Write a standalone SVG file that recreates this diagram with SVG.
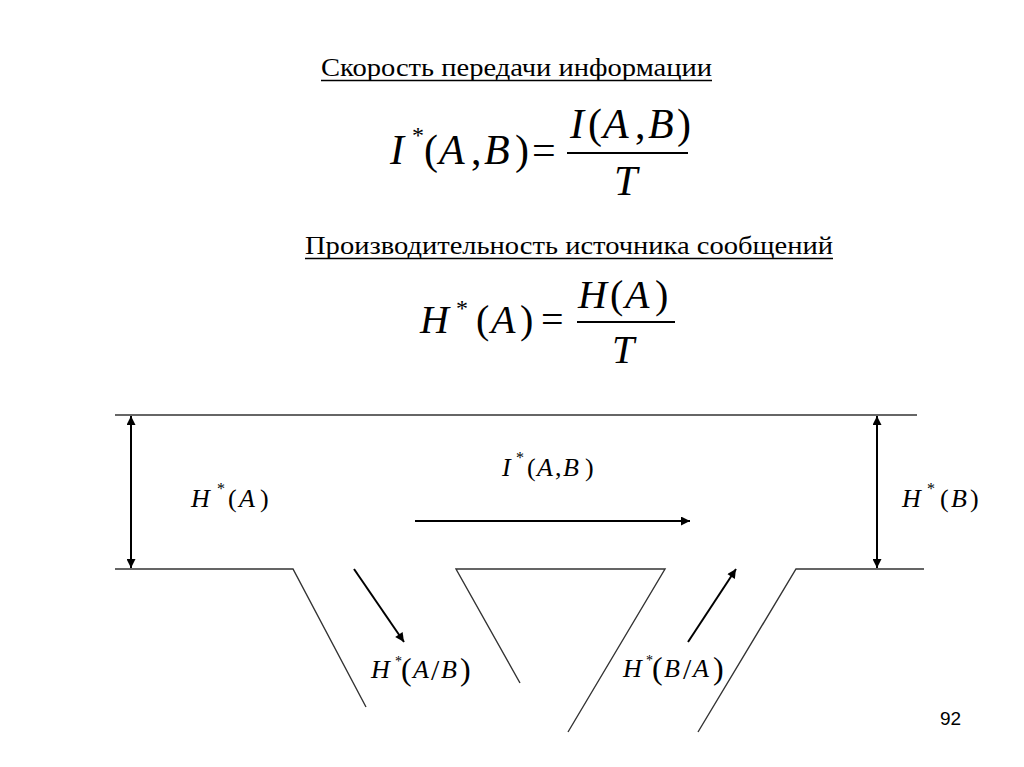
<svg xmlns="http://www.w3.org/2000/svg" width="1024" height="767" viewBox="0 0 1024 767">
<style>
.t{font-family:"Liberation Serif","Times New Roman",serif;fill:#000}
.i{font-style:italic}
.ol{stroke:#333;stroke-width:1.4;fill:none}
.ar{stroke:#000;stroke-width:2;fill:none}
.ul{stroke:#000;stroke-width:1.5}
</style>
<defs>
<marker id="ah" viewBox="0 0 10 10" refX="10" refY="5" markerWidth="11" markerHeight="9" markerUnits="userSpaceOnUse" orient="auto-start-reverse">
<path d="M0,0 L10,5 L0,10 Z" fill="#000"/>
</marker>
</defs>
<rect width="1024" height="767" fill="#fff"/>

<g id="heading1">
<text class="t" x="321" y="76" font-size="26" textLength="391" lengthAdjust="spacingAndGlyphs">Скорость передачи информации</text>
<line class="ul" x1="321" y1="80.5" x2="712" y2="80.5"/>
</g>

<g id="formula1" class="t" font-size="42">
<text y="164"><tspan class="i" x="390">I</tspan><tspan x="412" y="143" font-size="24">*</tspan><tspan x="424" y="164">(</tspan><tspan class="i" x="439">A</tspan><tspan x="471">,</tspan><tspan class="i" x="484">B</tspan><tspan x="515">)</tspan><tspan x="532">=</tspan></text>
<text y="138"><tspan class="i" x="570">I</tspan><tspan x="588">(</tspan><tspan class="i" x="603">A</tspan><tspan x="635">,</tspan><tspan class="i" x="648">B</tspan><tspan x="677">)</tspan></text>
<line x1="567" y1="153" x2="688" y2="153" stroke="#000" stroke-width="2"/>
<text y="195"><tspan class="i" x="614">T</tspan></text>
</g>

<g id="heading2">
<text class="t" x="305" y="254" font-size="26" textLength="528" lengthAdjust="spacingAndGlyphs">Производительность источника сообщений</text>
<line class="ul" x1="305" y1="258.5" x2="833" y2="258.5"/>
</g>

<g id="formula2" class="t" font-size="40">
<text y="333"><tspan class="i" x="420">H</tspan><tspan x="456" y="316" font-size="24">*</tspan><tspan x="476" y="333">(</tspan><tspan class="i" x="491">A</tspan><tspan x="520">)</tspan><tspan x="541">=</tspan></text>
<text y="308"><tspan class="i" x="578">H</tspan><tspan x="610">(</tspan><tspan class="i" x="625">A</tspan><tspan x="655">)</tspan></text>
<line x1="577" y1="322" x2="675" y2="322" stroke="#000" stroke-width="2"/>
<text y="363"><tspan class="i" x="612">T</tspan></text>
</g>

<g id="channel">
<line class="ol" x1="115" y1="415" x2="917" y2="415"/>
<polyline class="ol" points="115,569 293,569 366,707"/>
<polyline class="ol" points="520,683 456,569 665,569 568,732"/>
<polyline class="ol" points="698,732 796,569 924,569"/>
</g>

<g id="connectors">
<line class="ar" x1="131" y1="416" x2="131" y2="568" marker-start="url(#ah)" marker-end="url(#ah)"/>
<line class="ar" x1="877" y1="416" x2="877" y2="568" marker-start="url(#ah)" marker-end="url(#ah)"/>
<line class="ar" x1="415" y1="521" x2="690" y2="521" marker-end="url(#ah)"/>
<line class="ar" x1="354" y1="569" x2="404" y2="642" marker-end="url(#ah)"/>
<line class="ar" x1="688" y1="642" x2="736" y2="569" marker-end="url(#ah)"/>
</g>

<g id="label-IAB" class="t" font-size="26">
<text y="476"><tspan class="i" x="502">I</tspan><tspan x="516" y="463" font-size="16">*</tspan><tspan x="527" y="476">(</tspan><tspan class="i" x="537">A</tspan><tspan x="555">,</tspan><tspan class="i" x="563">B</tspan><tspan x="585">)</tspan></text>
</g>

<g id="label-HA" class="t" font-size="26">
<text y="507"><tspan class="i" x="191">H</tspan><tspan x="217" y="494" font-size="16">*</tspan><tspan x="228" y="507">(</tspan><tspan class="i" x="239">A</tspan><tspan x="260">)</tspan></text>
</g>

<g id="label-HB" class="t" font-size="26">
<text y="507"><tspan class="i" x="902">H</tspan><tspan x="927" y="494" font-size="16">*</tspan><tspan x="940" y="507">(</tspan><tspan class="i" x="951">B</tspan><tspan x="970">)</tspan></text>
</g>

<g id="label-HAB" class="t" font-size="26">
<text y="678"><tspan class="i" x="371">H</tspan><tspan x="395" y="666" font-size="14">*</tspan><tspan x="401" y="680" font-size="32">(</tspan><tspan class="i" x="413" y="678">A</tspan><tspan x="431" y="680" font-size="30">/</tspan><tspan class="i" x="441" y="678">B</tspan><tspan x="460" y="680" font-size="32">)</tspan></text>
</g>

<g id="label-HBA" class="t" font-size="26">
<text y="677"><tspan class="i" x="623">H</tspan><tspan x="646" y="665" font-size="14">*</tspan><tspan x="652" y="679" font-size="32">(</tspan><tspan class="i" x="664" y="677">B</tspan><tspan x="683" y="679" font-size="30">/</tspan><tspan class="i" x="693" y="677">A</tspan><tspan x="713" y="679" font-size="32">)</tspan></text>
</g>

<g id="page-number">
<text x="940" y="725" font-family="Liberation Sans, Arial, sans-serif" font-size="19" fill="#000">92</text>
</g>
</svg>
